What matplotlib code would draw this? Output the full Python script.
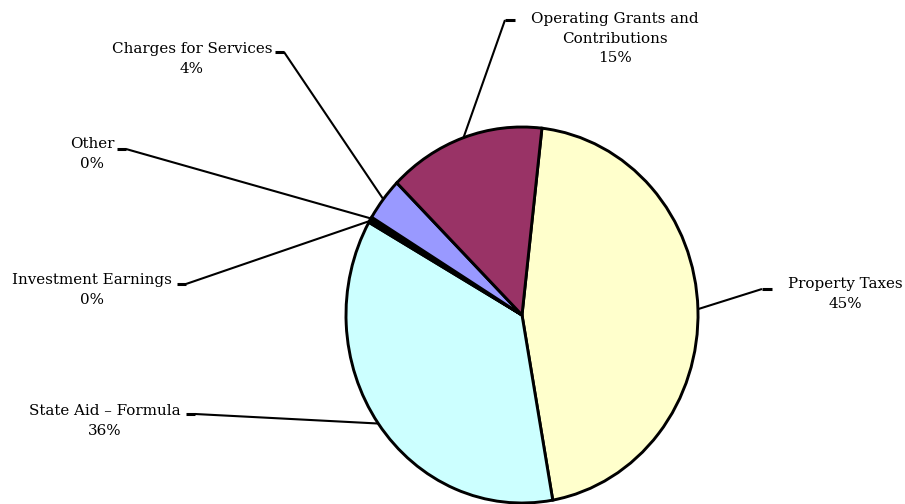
import numpy as np
import matplotlib
matplotlib.use("Agg")
import matplotlib.pyplot as plt

labels = ["Property Taxes", "State Aid \u2013 Formula", "Investment Earnings",
          "Other", "Charges for Services", "Operating Grants and\nContributions"]
shares = [45.4, 36.0, 0.25, 0.25, 3.7, 14.4]
pct_text = ["45%", "36%", "0%", "0%", "4%", "15%"]
colors = ["#FFFFCC", "#CCFFFF", "#660066", "#FF8080", "#9999FF", "#993366"]

W, H = 905, 504
CX, CY, RX, RY = 522, 315, 176, 188


def px(x, y):
    # pixel position -> data units of the (elliptical) pie
    return (x - CX) / RX, (CY - y) / RY


# label centre and stub (inner end, outer end) in pixels
label_pos = [(845, 294), (105, 421), (92, 290), (92, 154), (192, 59), (615, 39)]
stubs = [((762, 289), (772, 289)), ((195, 414), (186, 414)), ((186, 284), (177, 284)),
         ((126, 149), (117, 149)), ((284, 52), (275, 52)), ((505, 20), (515, 20))]

plt.rcParams['font.family'] = ['DejaVu Serif']
fig = plt.figure(figsize=(W / 100, H / 100), dpi=100)
ax = fig.add_axes([0, 0, 1, 1])

wedges, _ = ax.pie(shares, colors=colors, startangle=83.5, counterclock=False,
                   radius=1, center=(0, 0), frame=True,
                   wedgeprops=dict(edgecolor="black", linewidth=2.1))
ax.set_xlim(px(0, 0)[0], px(W, 0)[0])
ax.set_ylim(px(0, H)[1], px(0, 0)[1])
ax.set_aspect("auto")
ax.axis("off")
for w in wedges:
    w.set_clip_on(False)

for w, lab, pct, pos, stub in zip(wedges, labels, pct_text, label_pos, stubs):
    mid = np.deg2rad((w.theta1 + w.theta2) / 2)
    ex, ey = np.cos(mid), np.sin(mid)
    sx0, sy0 = px(*stub[0])
    sx1, sy1 = px(*stub[1])
    ax.plot([ex, sx0], [ey, sy0], color="black", lw=1.5, solid_capstyle="butt")
    ax.plot([sx0, sx1], [sy0, sy1], color="black", lw=2.2, solid_capstyle="butt")
    tx, ty = px(*pos)
    ax.text(tx, ty, lab + "\n" + pct, ha="center", va="center",
            fontsize=10.9, linespacing=1.5, color="black")

fig.savefig("out.png", dpi=100)
